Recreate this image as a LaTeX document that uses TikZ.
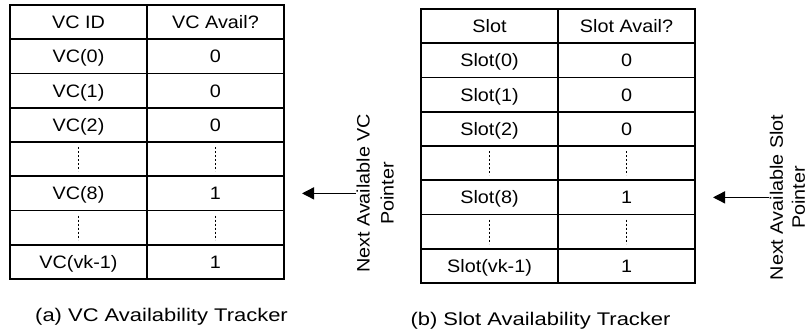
\documentclass[tikz,border=0pt]{standalone}
\usepackage{fontspec}
\setmainfont[FakeStretch=1.1]{Liberation Sans}
\newfontfamily\capfont[FakeStretch=1.2]{Liberation Sans}
\usetikzlibrary{positioning,arrows.meta}

\tikzset{
  cell/.style={draw, line width=1.6pt, outer sep=0pt, inner sep=0pt,
    minimum width=137pt, minimum height=34.25pt,
    font=\fontsize{18}{21}\selectfont, text height=13pt, text depth=0pt},
  vdots/.style={line width=1.5pt, dash pattern=on 2pt off 2pt},
  ptr/.style={line width=1.3pt, -{Triangle[length=12pt,width=12pt]}},
  ptrlabel/.style={rotate=90, align=center, inner sep=1pt,
    font=\fontsize{18}{24}\selectfont},
  caption/.style={anchor=base, font=\capfont\fontsize{18.3}{22}\selectfont},
}

\begin{document}
\begin{tikzpicture}[x=1pt, y=-1pt]
  \useasboundingbox (0,0) rectangle (808,331);

  % VC table
  \foreach \id/\av [count=\i from 0] in {VC ID/VC Avail?, VC(0)/0, VC(1)/0,
      VC(2)/0, /, VC(8)/1, /, VC(vk-1)/1} {
    \node[cell] (a-\i-1) at (78.5, 22.125+34.25*\i) {\id};
    \node[cell, right=0pt of a-\i-1] (a-\i-2) {\av};
  }

  % Slot table
  \foreach \id/\av [count=\i from 0] in {Slot/Slot Avail?, Slot(0)/0, Slot(1)/0,
      Slot(2)/0, /, Slot(8)/1, /, Slot(vk-1)/1} {
    \node[cell] (b-\i-1) at (489.5, 26.125+34.25*\i) {\id};
    \node[cell, right=0pt of b-\i-1] (b-\i-2) {\av};
  }

  % Dotted rows
  \foreach \t in {a,b}
    \foreach \r in {4,6}
      \foreach \c in {1,2}
        \draw[vdots] ([yshift=12pt]\t-\r-\c.center) -- ([yshift=-12pt]\t-\r-\c.center);

  % Pointers
  \coordinate[right=18pt of a-5-2] (tipA);
  \node[ptrlabel, right=68pt of a-5-2, anchor=north, yshift=-3.5pt] (lblA)
    {Next Available VC\\Pointer};
  \draw[ptr] (lblA.north |- tipA) -- (tipA);

  \coordinate[right=18pt of b-5-2] (tipB);
  \node[ptrlabel, right=66pt of b-5-2, anchor=north, yshift=-7.5pt,
    font=\fontsize{18}{22}\selectfont] (lblB)
    {Next Available Slot\\Pointer};
  \draw[ptr] (lblB.north |- tipB) -- (tipB);

  % Captions
  \node[caption] (capA) at ([xshift=14.5pt, yshift=-42pt]a-7-1.south east)
    {(a) VC Availability Tracker};
  \node[caption] (capB) at ([xshift=-17.5pt, yshift=-42pt]b-7-1.south east)
    {(b) Slot Availability Tracker};

\end{tikzpicture}
\end{document}
